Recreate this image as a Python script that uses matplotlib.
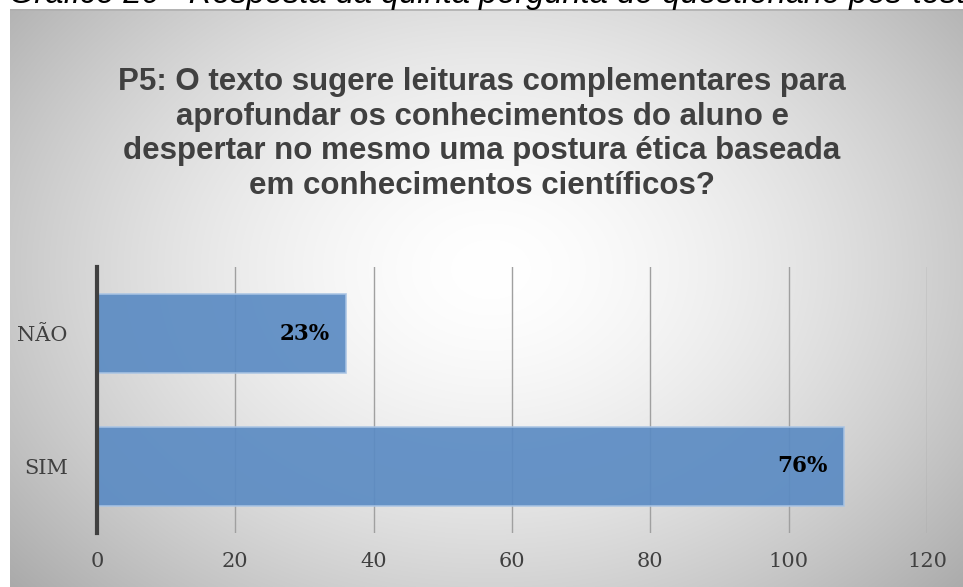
import numpy as np
import matplotlib
matplotlib.use("Agg")
import matplotlib.pyplot as plt

categories = ["SIM", "NÃO"]
values = [108, 36]
labels = ["76%", "23%"]
xticks = [0, 20, 40, 60, 80, 100, 120]
title = ("P5: O texto sugere leituras complementares para\n"
         "aprofundar os conhecimentos do aluno e\n"
         "despertar no mesmo uma postura ética baseada\n"
         "em conhecimentos científicos?")
header = "Gráfico 20 - Resposta da quinta pergunta do questionário pós-teste"

W, H = 963, 587
fig = plt.figure(figsize=(W / 100, H / 100), dpi=100)
fig.patch.set_facecolor("white")

# background radial gradient for chart area
bx0, by_top = 10, 9
bg = fig.add_axes([bx0 / W, 0, 1 - bx0 / W, (H - by_top) / H])
bg.set_axis_off()
gw, gh = W - bx0, H - by_top
xx, yy = np.meshgrid(np.arange(gw), np.arange(gh))
cx, cy = 480, 260
r = np.sqrt(((xx - cx) / 560) ** 2 + ((yy - cy) / 420) ** 2)
v = 1.0 - 0.27 * np.clip(r, 0, 1.3) ** 1.6
img = np.dstack([v, v, v])
bg.imshow(img, aspect="auto", extent=[0, 1, 0, 1], origin="upper")
bg.set_xlim(0, 1)
bg.set_ylim(0, 1)
bg.plot([0, 1], [0.999, 0.999], color="#b0b0b0", lw=1.2, transform=bg.transAxes)

fig.text(0.5 + 15 / W, 1 + 6 / H, header, ha="center", va="center", fontsize=23.5,
         style="italic", family="Liberation Sans", color="black")

fig.text(482 / W, 1 - 67 / H, title, ha="center", va="top", fontsize=22.5,
         fontweight="bold", family="Liberation Sans", color="#404040",
         linespacing=1.2)

ax = fig.add_axes([97 / W, 54 / H, (927 - 97) / W, (533 - 267) / H])
ax.set_facecolor("none")
ypos = np.arange(len(categories))
ax.barh(ypos, values, height=0.6, color="#5b8bc3", alpha=0.92,
        edgecolor="#a9c4e4", linewidth=1.2, zorder=3)
for y, val, lab in zip(ypos, values, labels):
    ax.text(val - 2.4, y, lab, ha="right", va="center", fontsize=15.5,
            fontweight="bold", family="DejaVu Serif", color="black", zorder=4)

ax.set_xlim(0, 120)
ax.set_ylim(-0.5, 1.5)
ax.set_xticks(xticks)
ax.set_yticks(ypos)
ax.set_yticklabels(categories)
ax.grid(axis="x", color="#a0a0a0", lw=1.0, zorder=1)
for s in ["top", "right", "bottom"]:
    ax.spines[s].set_visible(False)
ax.spines["left"].set_color("#404040")
ax.spines["left"].set_linewidth(3)
ax.spines["left"].set_zorder(5)
ax.tick_params(axis="both", length=0, labelsize=15, labelcolor="#404040")
ax.tick_params(axis="x", pad=14)
ax.tick_params(axis="y", pad=21)
for t in ax.get_xticklabels() + ax.get_yticklabels():
    t.set_family("DejaVu Serif")

fig.savefig("out.png", dpi=100)
